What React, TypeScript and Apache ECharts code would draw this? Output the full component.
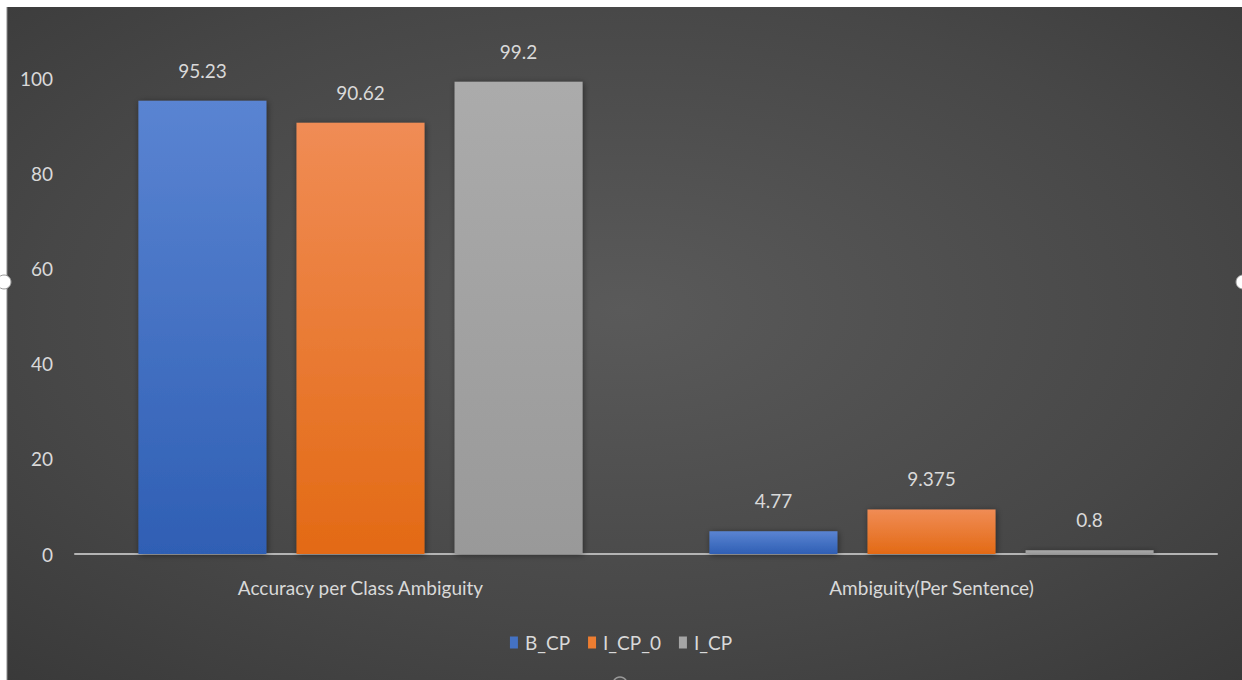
import React, { useEffect, useRef } from "react";
import * as echarts from "echarts";

// Categories and series values
const categories = ["Accuracy per Class Ambiguity", "Ambiguity(Per Sentence)"];
const seriesNames = ["B_CP", "I_CP_0", "I_CP"];
const bCp = [95.23, 4.77];
const iCp0 = [90.62, 9.375];
const iCp = [99.2, 0.8];
const yTicks = { min: 0, max: 100, interval: 20 };

const FONT = "Lato, 'Noto Sans', sans-serif";
const TEXT = "#d9d9d9";
const FS = 19;

const barFill = (top: string, bottom: string) => ({
  type: "linear",
  x: 0,
  y: 0,
  x2: 0,
  y2: 1,
  colorStops: [
    { offset: 0, color: top },
    { offset: 1, color: bottom },
  ],
});

export default function App() {
  const ref = useRef<HTMLDivElement>(null);

  useEffect(() => {
    if (!ref.current) return;
    const chart = echarts.init(ref.current, undefined, { renderer: "svg" });

    const palette = [
      { legend: "#4472c4", fill: barFill("#5a84d2", "#2f5fb4") },
      { legend: "#ed7d31", fill: barFill("#f08c55", "#e36a15") },
      { legend: "#a5a5a5", fill: barFill("#ababab", "#999999") },
    ];
    const values = [bCp, iCp0, iCp];

    chart.setOption({
      animation: false,
      backgroundColor: "#ffffff",
      textStyle: { fontFamily: FONT },
      graphic: [
        {
          type: "rect",
          z: -10,
          silent: true,
          shape: { x: 7, y: 7, width: 1235, height: 673 },
          style: {
            fill: {
              type: "radial",
              x: 0.5,
              y: 0.45,
              r: 1.05,
              colorStops: [
                { offset: 0, color: "#5a5a5a" },
                { offset: 0.45, color: "#474747" },
                { offset: 1, color: "#2a2a2a" },
              ],
            },
          },
        },
        {
          type: "line",
          silent: true,
          shape: { x1: 7, y1: 7, x2: 7, y2: 680 },
          style: { stroke: "#8a8a8a", lineWidth: 1 },
        },
        {
          type: "circle",
          silent: true,
          shape: { cx: 4, cy: 282, r: 7 },
          style: { fill: "#ffffff", stroke: "#9a9a9a", lineWidth: 1 },
        },
        {
          type: "circle",
          silent: true,
          shape: { cx: 1243, cy: 282, r: 7 },
          style: { fill: "#ffffff", stroke: "#9a9a9a", lineWidth: 1 },
        },
        {
          type: "circle",
          silent: true,
          shape: { cx: 620, cy: 684, r: 7 },
          style: { fill: "#4a4a4a", stroke: "#9a9a9a", lineWidth: 1.5 },
        },
      ],
      grid: { left: 75, right: 25, top: 78, bottom: 126, containLabel: false },
      legend: {
        data: seriesNames.map((n, i) => ({
          name: n,
          itemStyle: { color: palette[i].legend },
        })),
        left: "center",
        top: 628,
        icon: "rect",
        itemWidth: 8,
        itemHeight: 12,
        itemGap: 18,
        textStyle: { color: TEXT, fontSize: FS, fontFamily: FONT, padding: [0, 0, 0, 2] },
      },
      xAxis: {
        type: "category",
        data: categories,
        axisLine: { show: true, lineStyle: { color: "#b4b4b4", width: 2 } },
        axisTick: { show: false },
        axisLabel: { color: TEXT, fontSize: FS, margin: 24, fontFamily: FONT },
        splitLine: { show: false },
      },
      yAxis: {
        type: "value",
        min: yTicks.min,
        max: yTicks.max,
        interval: yTicks.interval,
        axisLine: { show: false },
        axisTick: { show: false },
        splitLine: { show: false },
        axisLabel: { color: TEXT, fontSize: FS, margin: 22, fontFamily: FONT },
      },
      series: seriesNames.map((name, i) => ({
        name,
        type: "bar",
        data: values[i],
        barWidth: 128,
        barGap: "23.5%",
        barCategoryGap: "22%",
        itemStyle: {
          color: palette[i].fill,
          shadowBlur: 6,
          shadowColor: "rgba(0,0,0,0.45)",
          shadowOffsetX: 1,
          shadowOffsetY: 1,
        },
        label: {
          show: true,
          position: "top",
          distance: 21,
          color: TEXT,
          fontSize: FS,
          fontFamily: FONT,
          formatter: (p: any) => String(p.value),
        },
      })),
    });

    return () => chart.dispose();
  }, []);

  return (
    <div
      ref={ref}
      style={{ position: "fixed", left: 0, top: 0, width: 1242, height: 680 }}
    />
  );
}
